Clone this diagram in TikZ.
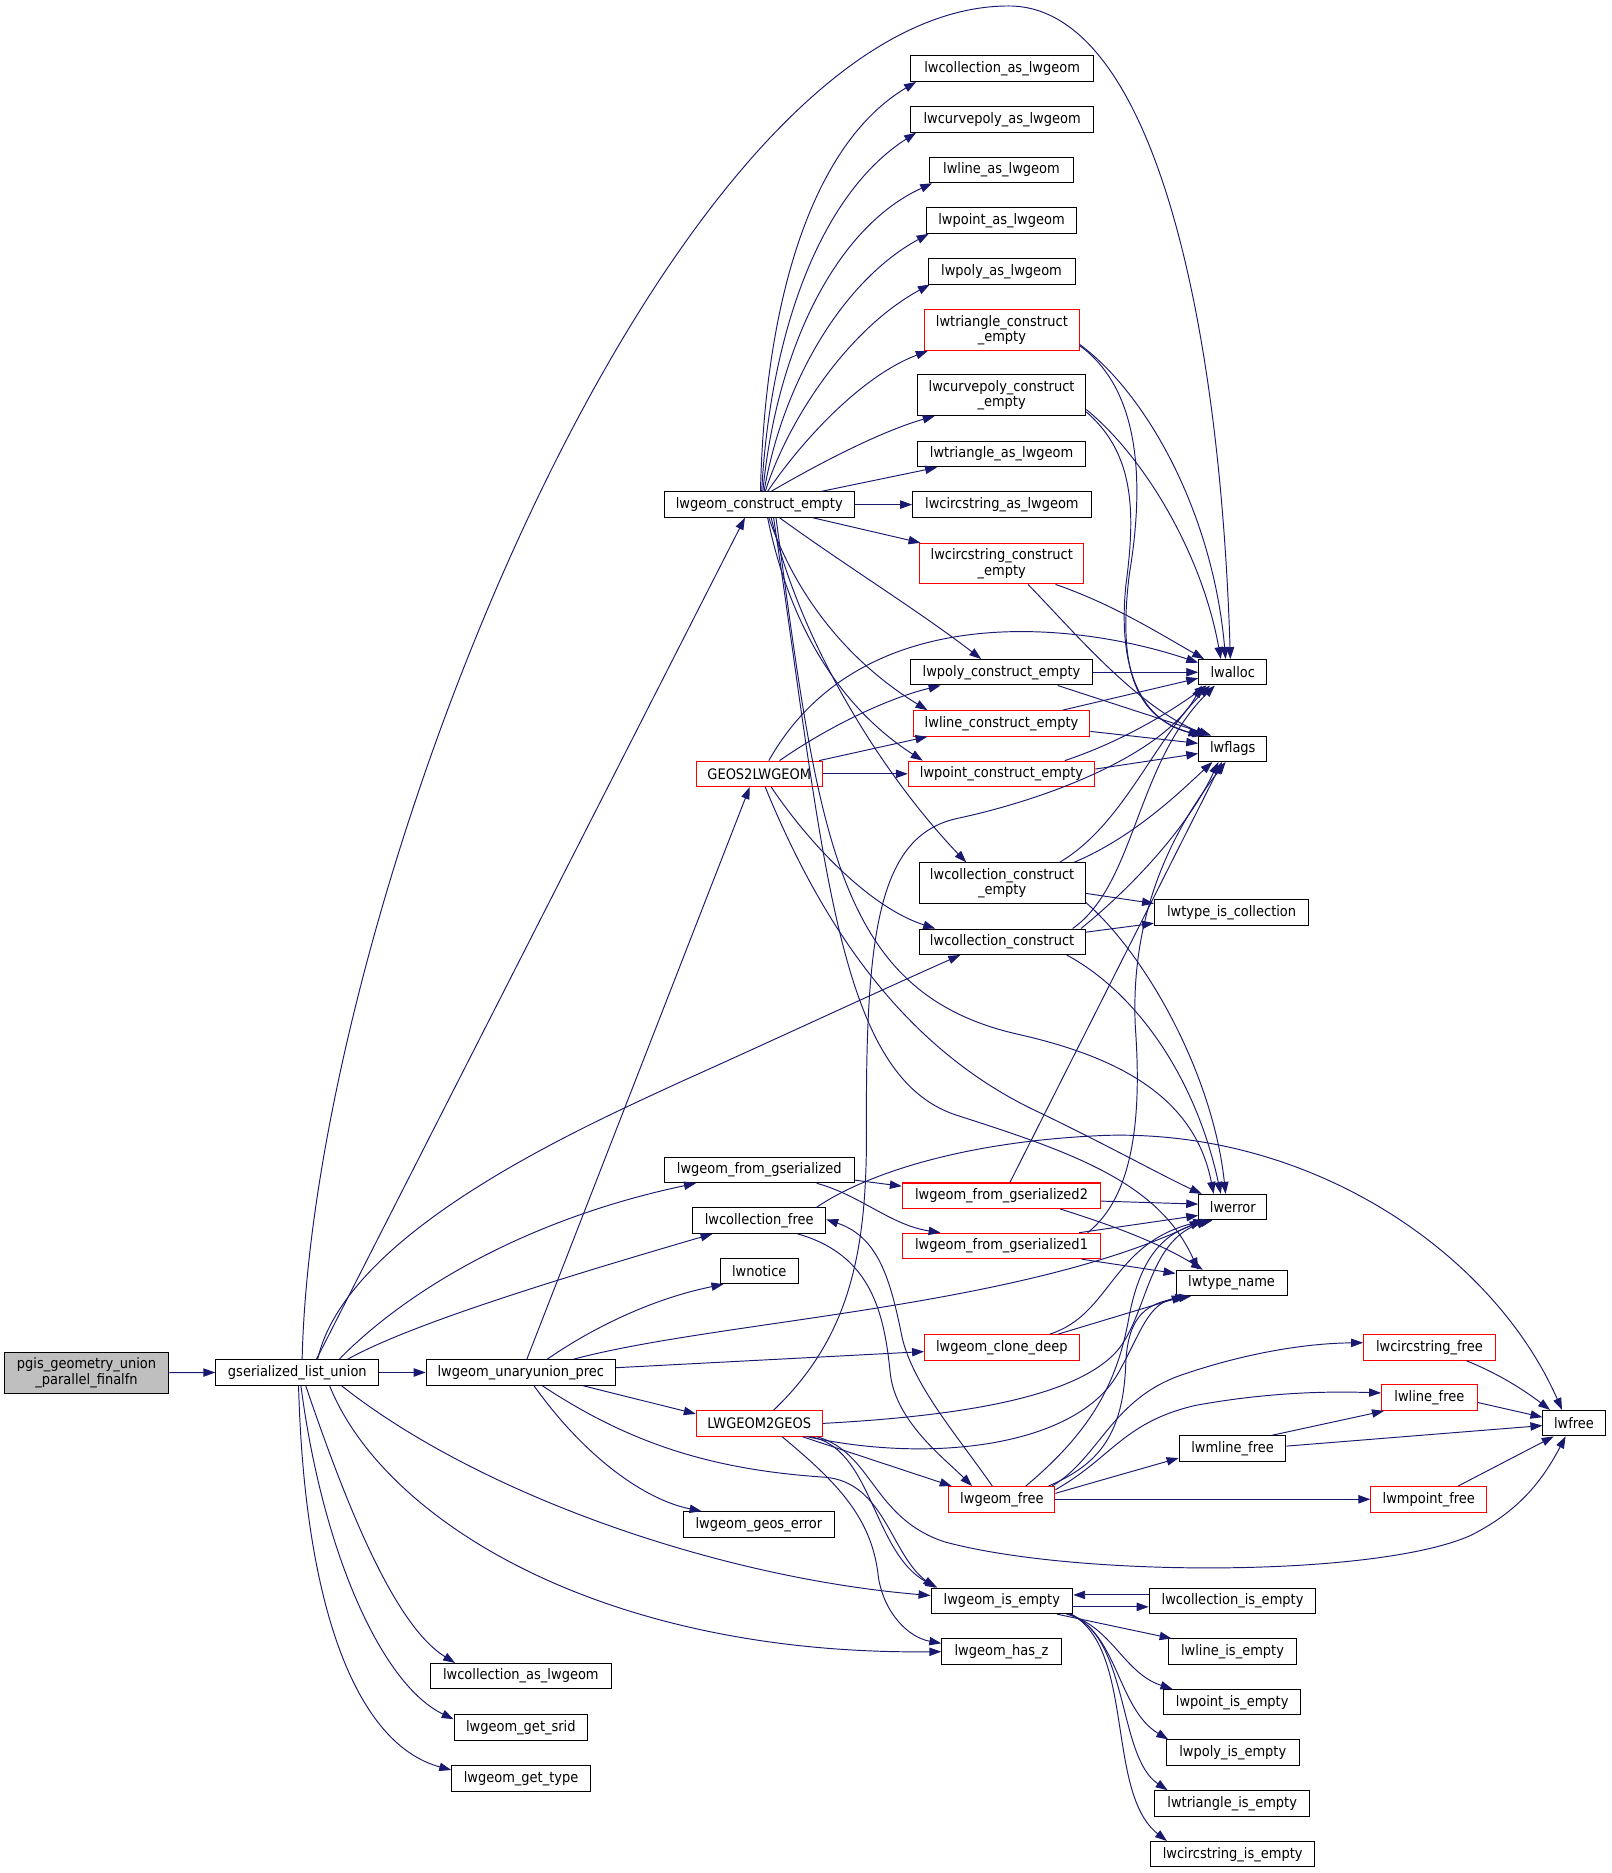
\documentclass[tikz,border=0pt]{standalone}
\usepackage{fontspec}
\usepackage{graphicx}
\setmainfont{DejaVu Sans Condensed}
\usetikzlibrary{arrows.meta}
\definecolor{edgeblue}{HTML}{191970}
\definecolor{rootgray}{HTML}{BFBFBF}
\begin{document}
\begin{tikzpicture}[x=1pt,y=-1pt,
  fn/.style={draw=black, line width=0.85pt, fill=white, inner sep=0pt, minimum height=21.3pt, font=\fontsize{12.1}{13}\selectfont, align=center},
  fnred/.style={fn, draw=red},
  fntwo/.style={minimum height=34pt},
  rootfn/.style={fn, fill=rootgray, fntwo},
  call/.style={draw=edgeblue, line width=0.8pt, -{Triangle[length=10pt,width=7pt]}},
]
\fill[white] (0,0) rectangle (1348,1567.2);
\useasboundingbox (0,0) rectangle (1348,1567.2);

% nodes
\node[rootfn, minimum width=136.8pt] (pgis) at (72.4,1148.6) {pgis\_geometry\_union\\\_parallel\_finalfn};
\node[fn, minimum width=136.5pt] (gsl) at (248.8,1148.4) {gserialized\_list\_union};
\node[fn, minimum width=158.4pt] (uup) at (435.8,1148.4) {lwgeom\_unaryunion\_prec};
\node[fn, minimum width=159.4pt] (lce) at (635.3,422.2) {lwgeom\_construct\_empty};
\node[fn, minimum width=153pt] (colas) at (838.5,57.5) {lwcollection\_as\_lwgeom};
\node[fn, minimum width=153pt] (cpas) at (838.5,100) {lwcurvepoly\_as\_lwgeom};
\node[fn, minimum width=120pt] (lineas) at (838,142.3) {lwline\_as\_lwgeom};
\node[fn, minimum width=126pt] (pointas) at (838,184.6) {lwpoint\_as\_lwgeom};
\node[fn, minimum width=123pt] (polyas) at (838,227) {lwpoly\_as\_lwgeom};
\node[fnred, fntwo, minimum width=129.3pt] (tricon) at (838.3,276.2) {lwtriangle\_construct\\\_empty};
\node[fn, fntwo, minimum width=140.8pt] (cpcon) at (838.1,330.7) {lwcurvepoly\_construct\\\_empty};
\node[fn, minimum width=140.8pt] (trias) at (838.1,380) {lwtriangle\_as\_lwgeom};
\node[fn, minimum width=149.4pt] (circas) at (838.3,422.2) {lwcircstring\_as\_lwgeom};
\node[fnred, fntwo, minimum width=137.5pt] (circon) at (838.2,471.6) {lwcircstring\_construct\\\_empty};
\node[fn, minimum width=152pt] (polycon) at (838,562.5) {lwpoly\_construct\_empty};
\node[fnred, minimum width=148pt] (linecon) at (838,605.3) {lwline\_construct\_empty};
\node[fnred, minimum width=156pt] (pointcon) at (838,647.5) {lwpoint\_construct\_empty};
\node[fnred, minimum width=105.4pt] (g2l) at (635.3,647.5) {GEOS2LWGEOM};
\node[fn, minimum width=57pt] (lwalloc) at (1031.5,562.5) {lwalloc};
\node[fn, minimum width=57pt] (lwflags) at (1031.5,626.5) {lwflags};
\node[fn, fntwo, minimum width=139pt] (colcone) at (838.5,739) {lwcollection\_construct\\\_empty};
\node[fn, minimum width=139pt] (colcon) at (838.5,788) {lwcollection\_construct};
\node[fn, minimum width=129pt] (tic) at (1030.5,763.5) {lwtype\_is\_collection};
\node[fn, minimum width=159.4pt] (lfg) at (635.3,979) {lwgeom\_from\_gserialized};
\node[fnred, minimum width=166pt] (lfg2) at (838,1000.5) {lwgeom\_from\_gserialized2};
\node[fn, minimum width=57pt] (lwerror) at (1031.5,1010) {lwerror};
\node[fn, minimum width=111.4pt] (colfree) at (635.2,1021.3) {lwcollection\_free};
\node[fnred, minimum width=166pt] (lfg1) at (838,1042.5) {lwgeom\_from\_gserialized1};
\node[fn, minimum width=65.5pt] (lwnotice) at (635.3,1063.5) {lwnotice};
\node[fn, minimum width=93pt] (ltn) at (1030.5,1073.5) {lwtype\_name};
\node[fnred, minimum width=129.4pt] (clone) at (838.3,1127.4) {lwgeom\_clone\_deep};
\node[fnred, minimum width=105.4pt] (l2g) at (635.3,1191) {LWGEOM2GEOS};
\node[fnred, minimum width=110pt] (cfree) at (1196,1127.5) {lwcircstring\_free};
\node[fnred, minimum width=80pt] (linefree) at (1196,1169.5) {lwline\_free};
\node[fn, minimum width=52pt] (lwfree) at (1317,1190.8) {lwfree};
\node[fn, minimum width=89.4pt] (mlinefree) at (1031.3,1212) {lwmline\_free};
\node[fnred, minimum width=88.7pt] (gfree) at (838.3,1254.5) {lwgeom\_free};
\node[fnred, minimum width=97pt] (mpointfree) at (1195.5,1254.5) {lwmpoint\_free};
\node[fn, minimum width=126pt] (geoserr) at (635,1275.5) {lwgeom\_geos\_error};
\node[fn, minimum width=118.6pt] (isempty) at (838.3,1339.5) {lwgeom\_is\_empty};
\node[fn, minimum width=100pt] (hasz) at (838,1382) {lwgeom\_has\_z};
\node[fn, minimum width=139.5pt] (colisempty) at (1031.3,1339.5) {lwcollection\_is\_empty};
\node[fn, minimum width=107.3pt] (lineisempty) at (1031.3,1382) {lwline\_is\_empty};
\node[fn, minimum width=115pt] (pointisempty) at (1031,1424.3) {lwpoint\_is\_empty};
\node[fn, minimum width=111pt] (polyisempty) at (1031.5,1466.5) {lwpoly\_is\_empty};
\node[fn, minimum width=130pt] (triisempty) at (1031,1509) {lwtriangle\_is\_empty};
\node[fn, minimum width=137.2pt] (circisempty) at (1031.4,1551.5) {lwcircstring\_is\_empty};
\node[fn, minimum width=152pt] (colas2) at (435.8,1402.5) {lwcollection\_as\_lwgeom};
\node[fn, minimum width=111.6pt] (getsrid) at (435.8,1445.5) {lwgeom\_get\_srid};
\node[fn, minimum width=116pt] (gettype) at (436,1488) {lwgeom\_get\_type};

% edges
\draw[call] (pgis.east) -- (gsl.west);
\draw[call] (gsl.east) -- (uup.west);
\draw[call] ([xshift=4pt]gsl.north) .. controls (262,750) and (560,5) .. (844,5) .. controls (960,5) and (1020,250) .. ([xshift=-2pt]lwalloc.north);
\draw[call] ([xshift=16pt]gsl.north) -- ([xshift=-12pt]lce.south);
\draw[call] ([xshift=17pt]gsl.north) .. controls (290,1030) and (490,942) .. (570,905) .. controls (648,870) and (725,834) .. ([xshift=-35pt]colcon.south);
\draw[call] ([xshift=35pt]gsl.north) .. controls (340,1080) and (440,1020) .. ([xshift=-53pt]lfg.south);
\draw[call] ([xshift=42pt]gsl.north) .. controls (340,1110) and (450,1075) .. ([xshift=-39pt]colfree.south);
\draw[call] ([xshift=37pt]gsl.south) .. controls (400,1250) and (600,1320) .. ([yshift=4.5pt]isempty.west);
\draw[call] ([xshift=27pt]gsl.south) .. controls (320,1270) and (500,1385) .. (hasz.west);
\draw[call] ([xshift=7pt]gsl.south) .. controls (290,1260) and (330,1360) .. ([xshift=-55pt]colas2.north);
\draw[call] ([xshift=3pt]gsl.south) .. controls (270,1300) and (320,1410) .. ([yshift=7pt]getsrid.west);
\draw[call] ([xshift=1pt]gsl.south) .. controls (255,1350) and (300,1460) .. ([yshift=7pt]gettype.west);

\draw[call] ([xshift=5pt]uup.north) -- ([xshift=-8pt]g2l.south);
\draw[call] ([xshift=22pt]uup.north) .. controls (490,1115) and (540,1088) .. ([xshift=-30pt]lwnotice.south);
\draw[call] ([xshift=44pt]uup.north) .. controls (600,1105) and (850,1095) .. ([xshift=-26pt]lwerror.south);
\draw[call] ([yshift=4pt]uup.east) -- ([yshift=-3.5pt]clone.west);
\draw[call] ([xshift=52pt]uup.south) -- ([yshift=8pt]l2g.west);
\draw[call] ([xshift=18pt]uup.south) .. controls (530,1210) and (600,1230) .. (690,1236) .. controls (740,1240) and (745,1300) .. ([xshift=-56pt]isempty.north);
\draw[call] ([xshift=11pt]uup.south) .. controls (490,1220) and (540,1255) .. ([xshift=-48pt]geoserr.north);

\draw[call] ([xshift=8pt]g2l.north) .. controls (720,500) and (900,520) .. ([yshift=8pt]lwalloc.west);
\draw[call] ([xshift=17pt]g2l.north) .. controls (690,610) and (740,585) .. ([xshift=-51pt]polycon.south);
\draw[call] ([xshift=50pt]g2l.north) -- ([xshift=-62pt]linecon.south);
\draw[call] (g2l.east) -- (pointcon.west);
\draw[call] ([xshift=10pt]g2l.south) .. controls (680,710) and (730,760) .. ([xshift=-56pt]colcon.north);
\draw[call] ([xshift=5pt]g2l.south) .. controls (690,780) and (760,880) .. (870,931) .. controls (930,960) and (975,985) .. ([xshift=-26pt]lwerror.north);

\draw[call] ([xshift=1pt]lce.north) .. controls (640,250) and (680,120) .. ([xshift=-72pt]colas.south);
\draw[call] ([xshift=2pt]lce.north) .. controls (645,270) and (690,160) .. ([xshift=-72pt]cpas.south);
\draw[call] ([xshift=3pt]lce.north) .. controls (650,290) and (700,190) .. ([xshift=-58pt]lineas.south);
\draw[call] ([xshift=4pt]lce.north) .. controls (655,320) and (705,235) .. ([xshift=-61pt]pointas.south);
\draw[call] ([xshift=5pt]lce.north) .. controls (660,350) and (710,275) .. ([xshift=-60pt]polyas.south);
\draw[call] ([xshift=7pt]lce.north) .. controls (670,370) and (720,315) .. ([xshift=-62pt]tricon.south);
\draw[call] ([xshift=10pt]lce.north) .. controls (690,385) and (740,360) .. ([xshift=-56pt]cpcon.south);
\draw[call] ([xshift=52pt]lce.north) -- ([xshift=-54pt]trias.south);
\draw[call] (lce.east) -- (circas.west);
\draw[call] ([xshift=45pt]lce.south) -- ([xshift=-68pt]circon.north);
\draw[call] ([xshift=17pt]lce.south) .. controls (710,475) and (770,512) .. ([xshift=-17pt]polycon.north);
\draw[call] ([xshift=8pt]lce.south) .. controls (670,510) and (720,560) .. ([xshift=-62pt]linecon.north);
\draw[call] ([xshift=7pt]lce.south) .. controls (660,520) and (700,590) .. ([xshift=-66pt]pointcon.north);
\draw[call] ([xshift=10pt]lce.south) .. controls (670,540) and (740,650) .. ([xshift=-30pt]colcone.north);
\draw[call] ([xshift=14pt]lce.south) .. controls (685,700) and (700,830) .. (850,865) .. controls (940,885) and (1000,920) .. ([xshift=-16pt]lwerror.north);
\draw[call] ([xshift=12pt]lce.south) .. controls (690,720) and (700,900) .. (800,933) .. controls (900,965) and (970,990) .. ([xshift=-28pt]ltn.north);

\draw[call] ([yshift=-12pt]tricon.east) .. controls (960,330) and (1015,430) .. ([xshift=-6pt]lwalloc.north);
\draw[call] ([yshift=-13pt]tricon.east) .. controls (960,330) and (955,420) .. (945,480) .. controls (935,560) and (950,600) .. ([xshift=-27pt]lwflags.north);
\draw[call] ([yshift=-12pt]cpcon.east) .. controls (955,380) and (1005,460) .. ([xshift=-10pt]lwalloc.north);
\draw[call] ([yshift=-14pt]cpcon.east) .. controls (950,380) and (950,430) .. (942,490) .. controls (935,560) and (955,605) .. ([xshift=-24pt]lwflags.north);
\draw[call] ([xshift=45pt]circon.south) .. controls (930,505) and (970,530) .. ([xshift=-24pt]lwalloc.north);
\draw[call] ([xshift=22pt]circon.south) .. controls (900,530) and (950,590) .. ([xshift=-21pt]lwflags.north);
\draw[call] (polycon.east) -- (lwalloc.west);
\draw[call] ([xshift=47pt]polycon.south) -- ([xshift=-18pt]lwflags.north);
\draw[call] ([xshift=51pt]linecon.north) -- ([yshift=-5pt]lwalloc.west);
\draw[call] ([yshift=-6.7pt]linecon.east) -- ([yshift=4.5pt]lwflags.west);
\draw[call] ([xshift=53pt]pointcon.north) .. controls (940,620) and (980,595) .. ([xshift=-22pt]lwalloc.south);
\draw[call] ([yshift=4pt]pointcon.east) -- ([yshift=-4pt]lwflags.west);

\draw[call] ([xshift=48pt]colcone.north) .. controls (940,690) and (965,620) .. ([xshift=-19pt]lwalloc.south);
\draw[call] ([xshift=60pt]colcone.north) .. controls (950,700) and (990,660) .. ([xshift=-17pt]lwflags.south);
\draw[call] ([yshift=-8.5pt]colcone.east) -- ([yshift=7.5pt]tic.west);
\draw[call] ([yshift=-16pt]colcone.east) .. controls (960,800) and (1015,900) .. ([xshift=-6pt]lwerror.north);
\draw[call] ([xshift=59pt]colcon.north) .. controls (950,740) and (950,640) .. ([xshift=-15pt]lwalloc.south);
\draw[call] ([xshift=66pt]colcon.north) .. controls (950,740) and (995,690) .. ([xshift=-12pt]lwflags.south);
\draw[call] ([yshift=8pt]colcon.east) -- ([yshift=-9pt]tic.west);
\draw[call] ([xshift=54pt]colcon.south) .. controls (950,830) and (1000,900) .. ([xshift=-10pt]lwerror.north);

\draw[call] ([yshift=-8.5pt]lfg.east) -- ([yshift=8pt]lfg2.west);
\draw[call] ([xshift=48pt]lfg.south) .. controls (720,1000) and (745,1025) .. ([xshift=-51pt]lfg1.north);
\draw[call] ([xshift=48pt]colfree.north) .. controls (720,985) and (800,955) .. (925,950) .. controls (1100,945) and (1250,1050) .. ([xshift=-10pt]lwfree.north);
\draw[call] ([xshift=32pt]colfree.south) .. controls (730,1050) and (740,1100) .. (745,1150) .. controls (750,1190) and (790,1220) .. ([xshift=-25pt]gfree.north);
\draw[call] ([xshift=-8pt]gfree.north) .. controls (800,1200) and (765,1160) .. (755,1120) .. controls (745,1070) and (735,1035) .. ([yshift=1pt]colfree.east);

\draw[call] ([yshift=-4.5pt]lfg2.east) -- ([yshift=2.5pt]lwerror.west);
\draw[call] ([xshift=49pt]lfg2.south) .. controls (930,1025) and (970,1040) .. ([xshift=-24pt]ltn.north);
\draw[call] ([xshift=7pt]lfg2.north) -- ([xshift=-9pt]lwflags.south);
\draw[call] ([xshift=65pt]lfg1.north) -- ([yshift=-7pt]lwerror.west);
\draw[call] ([xshift=67pt]lfg1.south) -- ([yshift=8pt]ltn.west);
\draw[call] ([xshift=72pt]lfg1.north) .. controls (950,1000) and (955,930) .. (950,860) .. controls (945,760) and (985,690) .. ([xshift=-6pt]lwflags.south);

\draw[call] ([xshift=40pt]clone.north) .. controls (930,1100) and (930,1040) .. ([xshift=-23pt]lwerror.south);
\draw[call] ([xshift=47pt]clone.north) -- ([xshift=-40pt]ltn.south);

\draw[call] ([xshift=12pt]l2g.north) .. controls (710,1120) and (725,1050) .. (725,950) .. controls (724,780) and (735,700) .. (800,685) .. controls (880,668) and (975,630) .. ([xshift=-26pt]lwalloc.south);
\draw[call] (l2g.east) .. controls (800,1185) and (900,1170) .. (935,1130) .. controls (960,1100) and (960,1040) .. ([xshift=-20pt]lwerror.south);
\draw[call] ([xshift=40pt]l2g.south) .. controls (780,1225) and (900,1210) .. (935,1150) .. controls (955,1115) and (960,1090) .. ([xshift=-37pt]ltn.south);
\draw[call] ([xshift=36pt]l2g.south) -- ([xshift=-42pt]gfree.north);
\draw[call] ([xshift=42pt]l2g.south) .. controls (730,1210) and (730,1300) .. ([xshift=-54pt]isempty.north);
\draw[call] ([xshift=19pt]l2g.south) .. controls (700,1240) and (730,1270) .. (735,1320) .. controls (740,1350) and (760,1370) .. ([yshift=7pt]hasz.west);
\draw[call] ([xshift=48pt]l2g.south) .. controls (730,1215) and (730,1270) .. (790,1290) .. controls (900,1320) and (1150,1320) .. (1230,1285) .. controls (1270,1265) and (1290,1240) .. ([xshift=-7pt]lwfree.south);

\draw[call] ([xshift=20pt]gfree.north) .. controls (910,1200) and (935,1160) .. (945,1100) .. controls (955,1050) and (975,1030) .. ([xshift=-17pt]lwerror.south);
\draw[call] ([xshift=39pt]gfree.north) .. controls (920,1225) and (940,1200) .. (942,1140) .. controls (944,1100) and (960,1090) .. ([xshift=-34pt]ltn.south);
\draw[call] ([xshift=42pt]gfree.north) .. controls (920,1220) and (930,1170) .. (990,1150) .. controls (1040,1133) and (1090,1124) .. ([yshift=4pt]cfree.west);
\draw[call] ([yshift=8pt]gfree.east) .. controls (930,1220) and (940,1190) .. (1000,1176) .. controls (1060,1165) and (1110,1164) .. ([yshift=4pt]linefree.west);
\draw[call] ([yshift=5pt]gfree.east) -- ([yshift=-8pt]mlinefree.west);
\draw[call] (gfree.east) -- (mpointfree.west);

\draw[call] ([xshift=33pt]mlinefree.north) -- ([xshift=-38pt]linefree.south);
\draw[call] ([yshift=2pt]mlinefree.east) -- ([yshift=-2pt]lwfree.west);
\draw[call] ([yshift=-4pt]linefree.east) -- ([yshift=5pt]lwfree.west);
\draw[call] ([xshift=31pt]cfree.south) .. controls (1255,1150) and (1275,1163) .. ([xshift=-20pt]lwfree.north);
\draw[call] ([xshift=24.5pt]mpointfree.north) -- ([xshift=-17pt]lwfree.south);

\draw[call] ([yshift=5pt]colisempty.west) -- ([yshift=5pt]isempty.east);
\draw[call] ([yshift=-5pt]isempty.east) -- ([yshift=-5pt]colisempty.west);
\draw[call] ([xshift=46pt]isempty.south) -- ([xshift=-51pt]lineisempty.north);
\draw[call] ([xshift=54pt]isempty.south) .. controls (930,1360) and (940,1400) .. ([xshift=-50pt]pointisempty.north);
\draw[call] ([xshift=56pt]isempty.south) .. controls (935,1365) and (935,1430) .. ([xshift=-54pt]polyisempty.north);
\draw[call] ([xshift=57pt]isempty.south) .. controls (945,1370) and (935,1470) .. ([xshift=-54pt]triisempty.north);
\draw[call] ([xshift=58pt]isempty.south) .. controls (950,1380) and (925,1500) .. ([xshift=-55pt]circisempty.north);
\end{tikzpicture}
\end{document}
